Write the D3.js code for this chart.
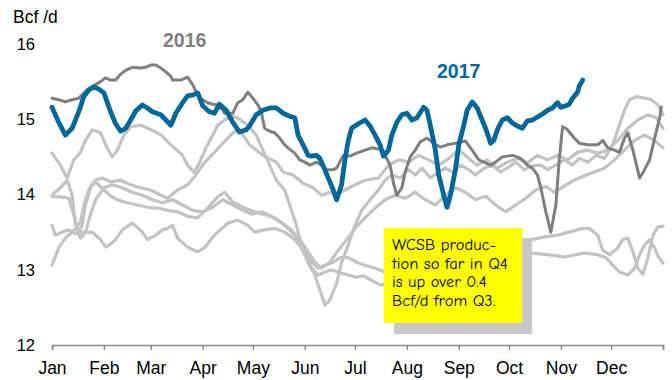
<!DOCTYPE html>
<html>
<head>
<meta charset="utf-8">
<script src="https://cdn.jsdelivr.net/npm/d3@7"></script>
<style>
  html, body { margin: 0; padding: 0; background: #fff; }
  svg { display: block; }
</style>
</head>
<body>
<svg id="chart" width="672" height="380"></svg>
<script>
// WCSB daily gas production, Bcf/d, by day of year

const monthLabels = ["Jan", "Feb", "Mar", "Apr", "May", "Jun", "Jul", "Aug", "Sep", "Oct", "Nov", "Dec"];
const monthStartDays = [0, 31, 59, 90, 120, 151, 181, 212, 243, 273, 304, 334, 365];
const yTickValues = [12, 13, 14, 15, 16];

// [day of year, Bcf/d]
const prod2017 = [[0,15.16],[4,14.96],[8,14.79],[12,14.88],[16,15.10],[19,15.30],[22,15.39],[25,15.43],[28,15.40],[31,15.35],[35,15.10],[38,14.94],[41,14.84],[44,14.88],[47,14.99],[50,15.11],[54,15.19],[57,15.15],[60,15.10],[65,15.06],[68,14.99],[71,14.92],[74,15.08],[78,15.22],[81,15.31],[84,15.32],[87,15.35],[90,15.18],[94,15.10],[97,15.08],[100,15.20],[104,15.12],[108,14.96],[112,14.83],[116,14.86],[118,14.91],[122,15.06],[126,15.12],[130,15.15],[134,15.15],[138,15.08],[142,15.04],[145,15.02],[147,14.79],[150,14.66],[153,14.52],[155,14.51],[158,14.52],[160,14.48],[162,14.38],[165,14.22],[168,14.06],[170,13.93],[173,14.13],[175,14.46],[177,14.72],[179,14.88],[183,14.94],[187,14.99],[190,14.91],[193,14.79],[196,14.66],[198,14.51],[201,14.59],[203,14.79],[206,14.96],[209,15.06],[212,15.08],[215,14.99],[218,15.02],[222,15.16],[224,15.12],[226,14.92],[229,14.59],[231,14.26],[234,13.99],[236,13.83],[238,13.99],[241,14.33],[243,14.66],[246,14.92],[248,15.12],[251,15.23],[254,15.15],[256,15.04],[259,14.88],[261,14.75],[262,14.68],[264,14.72],[266,14.86],[269,14.99],[272,15.02],[275,14.95],[278,14.91],[281,14.88],[284,14.98],[287,14.99],[290,15.03],[293,15.07],[296,15.12],[299,15.15],[302,15.22],[304,15.16],[307,15.18],[309,15.20],[311,15.28],[314,15.36],[315,15.44],[317,15.52]];

const prod2016 = [[0,15.28],[4,15.26],[8,15.23],[12,15.26],[16,15.28],[21,15.39],[26,15.46],[29,15.50],[32,15.55],[35,15.52],[38,15.52],[41,15.60],[44,15.65],[48,15.69],[53,15.68],[56,15.69],[59,15.72],[62,15.72],[65,15.68],[68,15.63],[71,15.57],[72,15.52],[77,15.52],[81,15.56],[84,15.46],[87,15.32],[90,15.26],[93,15.22],[96,15.20],[99,15.19],[102,15.12],[103,15.08],[108,15.08],[111,15.22],[114,15.26],[117,15.36],[120,15.28],[123,15.19],[125,15.10],[127,14.88],[130,14.84],[133,14.82],[136,14.75],[139,14.66],[142,14.60],[145,14.55],[148,14.46],[151,14.43],[154,14.39],[158,14.43],[161,14.39],[164,14.33],[168,14.33],[170,14.35],[174,14.52],[178,14.51],[182,14.55],[187,14.59],[191,14.62],[196,14.60],[199,14.52],[202,14.39],[204,14.15],[206,13.99],[209,14.09],[211,14.30],[214,14.50],[217,14.59],[220,14.70],[224,14.75],[228,14.68],[232,14.63],[236,14.66],[241,14.68],[247,14.71],[251,14.59],[255,14.46],[259,14.42],[262,14.39],[265,14.43],[269,14.50],[272,14.51],[275,14.52],[278,14.50],[281,14.46],[284,14.39],[287,14.35],[290,14.26],[292,14.09],[295,13.77],[298,13.50],[301,13.86],[303,14.46],[305,14.90],[307,14.88],[309,14.83],[312,14.75],[315,14.68],[320,14.66],[326,14.66],[329,14.72],[332,14.62],[336,14.59],[339,14.56],[342,14.75],[344,14.82],[347,14.59],[351,14.22],[354,14.33],[357,14.46],[360,14.75],[363,15.02],[364,15.16]];

// earlier years, drawn as a light background band
const prodEarlierA = [[0,14.55],[5,14.39],[9,14.22],[13,14.46],[17,14.56],[20,14.72],[24,14.86],[29,14.82],[32,14.66],[36,14.50],[39,14.59],[43,14.79],[47,14.90],[53,14.92],[57,14.88],[62,14.83],[66,14.78],[69,14.70],[73,14.62],[78,14.52],[81,14.39],[85,14.29],[88,14.42],[92,14.62],[96,14.79],[99,14.92],[103,14.99],[108,15.04],[112,15.00],[117,14.92],[122,14.79],[126,14.59],[130,14.39],[134,14.19],[139,14.06],[142,13.86],[146,13.59],[149,13.33],[153,13.10],[157,12.93],[160,12.73],[163,12.53],[166,12.60],[170,12.82],[173,13.10],[177,13.33],[181,13.59],[185,13.79],[190,13.93],[195,14.06],[199,14.19],[203,14.26],[208,14.22],[213,14.33],[217,14.26],[221,14.35],[226,14.22],[231,14.30],[235,14.35],[239,14.30],[244,14.39],[249,14.33],[253,14.26],[258,14.35],[263,14.39],[268,14.30],[272,14.35],[277,14.43],[282,14.33],[287,14.38],[292,14.39],[296,14.33],[301,14.39],[306,14.46],[311,14.39],[315,14.48],[320,14.43],[325,14.52],[330,14.48],[335,14.66],[338,14.86],[342,15.12],[345,15.26],[349,15.30],[354,15.28],[358,15.26],[362,15.19],[365,15.06]];

const prodEarlierB = [[0,13.97],[5,13.97],[10,13.95],[13,13.73],[16,13.49],[18,13.59],[20,13.86],[23,14.09],[26,14.19],[30,14.22],[35,14.17],[41,14.19],[47,14.13],[53,14.09],[59,14.06],[65,13.99],[69,13.95],[75,14.06],[81,14.13],[86,14.26],[91,14.42],[97,14.56],[102,14.68],[108,14.82],[112,14.86],[118,14.66],[126,14.52],[134,14.43],[138,14.30],[144,14.26],[150,14.15],[156,14.09],[161,13.99],[166,14.03],[170,14.00],[175,14.06],[181,14.13],[187,14.19],[195,14.22],[201,14.39],[207,14.46],[213,14.43],[219,14.52],[225,14.46],[231,14.39],[237,14.48],[243,14.59],[249,14.48],[254,14.39],[260,14.46],[266,14.35],[272,14.43],[278,14.48],[284,14.42],[290,14.52],[296,14.46],[302,14.52],[308,14.46],[314,14.56],[320,14.59],[326,14.55],[332,14.59],[338,14.72],[344,14.88],[350,14.99],[356,15.06],[361,15.02],[365,14.88]];

const prodEarlierC = [[0,13.59],[2,13.46],[6,13.50],[10,13.53],[14,13.48],[18,13.50],[24,13.50],[29,13.40],[32,13.30],[35,13.34],[38,13.40],[42,13.53],[48,13.62],[54,13.50],[57,13.40],[62,13.46],[66,13.53],[69,13.55],[72,13.59],[75,13.42],[81,13.30],[87,13.24],[91,13.29],[97,13.46],[105,13.62],[111,13.66],[117,13.59],[121,13.50],[127,13.53],[133,13.55],[139,13.50],[145,13.40],[151,13.24],[155,13.10],[159,13.02],[163,13.06],[168,13.10],[172,13.16],[177,13.16],[182,13.10],[187,13.06],[193,13.02],[199,12.97],[208,13.06],[220,13.16],[232,13.24],[244,13.26],[256,13.29],[268,13.33],[280,13.37],[287,13.40],[295,13.44],[302,13.46],[309,13.50],[317,13.55],[321,13.55],[326,13.46],[329,13.26],[333,13.20],[338,13.29],[341,13.40],[344,13.42],[347,13.24],[350,13.02],[353,12.94],[356,13.16],[359,13.46],[362,13.57],[365,13.58]];

const prodEarlierD = [[0,13.06],[4,13.29],[8,13.42],[12,13.50],[14,13.55],[17,13.63],[19,13.86],[22,14.06],[24,14.14],[27,14.15],[31,14.06],[35,13.98],[39,13.93],[45,13.89],[51,13.86],[57,13.83],[63,13.82],[69,13.79],[75,13.77],[81,13.71],[87,13.69],[93,13.82],[99,13.97],[103,14.03],[108,13.90],[115,13.82],[121,13.77],[127,13.73],[133,13.69],[139,13.59],[145,13.46],[151,13.20],[155,13.02],[159,12.93],[163,12.97],[167,13.00],[172,12.96],[177,12.93],[182,12.90],[186,12.92],[191,12.86],[196,12.80],[214,12.84],[226,12.89],[238,13.00],[250,13.06],[262,13.13],[274,13.18],[287,13.22],[296,13.20],[306,13.17],[318,13.22],[326,13.20],[331,13.16],[335,13.06],[339,12.97],[344,12.93],[348,13.02],[351,13.20],[354,13.33],[357,13.40],[360,13.29],[362,13.18],[365,13.09]];

const prodEarlierE = [[0,13.99],[5,14.09],[9,14.19],[12,13.99],[14,13.59],[17,13.42],[20,13.50],[23,13.73],[26,13.93],[31,14.09],[36,14.13],[42,14.09],[48,14.03],[54,13.99],[60,13.93],[66,13.89],[72,13.93],[78,13.86],[84,13.79],[90,13.77],[96,13.83],[102,13.93],[108,13.86],[114,13.79],[119,13.74],[125,13.77],[131,13.71],[137,13.63],[143,13.53],[148,13.40],[153,13.24],[157,13.10],[161,13.02],[166,13.10],[171,13.26],[176,13.40],[181,13.55],[187,13.69],[193,13.82],[199,13.93],[205,13.99],[211,13.95],[217,14.03],[223,13.93],[229,13.86],[235,13.99],[241,14.09],[247,14.03],[253,13.93],[259,13.98],[265,13.86],[271,13.77],[277,13.86],[283,13.95],[289,14.06],[295,14.11],[300,14.03],[306,14.11],[312,14.19],[318,14.25],[324,14.30],[330,14.35],[336,14.46],[342,14.59],[348,14.72],[354,14.79],[360,14.72],[365,14.62]];

const earlierYears = [prodEarlierA, prodEarlierB, prodEarlierC, prodEarlierD, prodEarlierE];

const noteLines = ["WCSB produc-", "tion so far in Q4", "is up over 0.4", "Bcf/d from Q3."];

// ---- layout ----
const svg = d3.select("#chart");
const x = d3.scaleLinear().domain([0, 365]).range([52, 663]);
const y = d3.scaleLinear().domain([12, 16]).range([345, 44]);

const line = d3.line()
  .x(d => x(d[0]))
  .y(d => y(d[1]));

// earlier years
svg.append("g")
  .selectAll("path")
  .data(earlierYears)
  .join("path")
  .attr("d", line)
  .attr("fill", "none")
  .attr("stroke", "#c3c3c3")
  .attr("stroke-width", 3.2)
  .attr("stroke-linejoin", "round")
  .attr("stroke-linecap", "round");

// 2016
svg.append("path")
  .datum(prod2016)
  .attr("d", line)
  .attr("fill", "none")
  .attr("stroke", "#7f7f7f")
  .attr("stroke-width", 3)
  .attr("stroke-linejoin", "round")
  .attr("stroke-linecap", "round");

// 2017
svg.append("path")
  .datum(prod2017)
  .attr("d", line)
  .attr("fill", "none")
  .attr("stroke", "#02689b")
  .attr("stroke-width", 4.8)
  .attr("stroke-linejoin", "round")
  .attr("stroke-linecap", "round");

// x axis
const xAxis = svg.append("g")
  .attr("transform", `translate(0,${y(12)})`)
  .call(d3.axisBottom(x)
    .tickValues(monthStartDays)
    .tickSize(5)
    .tickFormat((d, i) => monthLabels[i] || ""));
xAxis.select(".domain").attr("stroke", "#8a8a8a").attr("stroke-width", 1.6);
xAxis.selectAll(".tick line").attr("stroke", "#8a8a8a").attr("stroke-width", 1.4);
xAxis.selectAll(".tick text")
  .attr("y", 17)
  .attr("dy", "0.71em")
  .attr("fill", "#000")
  .style("font-family", "'Liberation Sans', Arial, sans-serif")
  .style("font-size", "17.5px");

// y labels
const yAxis = svg.append("g")
  .attr("transform", "translate(36,0)")
  .call(d3.axisLeft(y).tickValues(yTickValues).tickSize(0).tickPadding(1).tickFormat(d3.format("d")));
yAxis.select(".domain").remove();
yAxis.selectAll(".tick text")
  .attr("fill", "#000")
  .style("font-family", "'Liberation Sans', Arial, sans-serif")
  .style("font-size", "16.5px");

// unit
svg.append("text")
  .attr("x", 13).attr("y", 23)
  .style("font-family", "'Liberation Sans', Arial, sans-serif")
  .style("font-size", "17.5px")
  .attr("fill", "#000")
  .text("Bcf /d");

// series labels
svg.append("text")
  .attr("x", 163).attr("y", 47)
  .style("font-family", "'Liberation Sans', Arial, sans-serif")
  .style("font-size", "19.5px").style("font-weight", "bold")
  .attr("fill", "#808080")
  .text("2016");
svg.append("text")
  .attr("x", 437).attr("y", 78)
  .style("font-family", "'Liberation Sans', Arial, sans-serif")
  .style("font-size", "19.5px").style("font-weight", "bold")
  .attr("fill", "#02689b")
  .text("2017");

// note box with drop shadow
const note = svg.append("g").attr("transform", "translate(384,228)");
note.append("rect").attr("x", 10).attr("y", 10).attr("width", 138).attr("height", 96).attr("fill", "#c8c8c8");
note.append("rect").attr("x", 0).attr("y", 0).attr("width", 138).attr("height", 95).attr("fill", "#ffff00");
note.append("text")
  .style("font-family", "'Comic Sans MS', 'Comic Neue', 'Noto Sans', sans-serif")
  .style("font-size", "16.5px")
  .attr("fill", "#000")
  .selectAll("tspan")
  .data(noteLines)
  .join("tspan")
  .attr("x", 8)
  .attr("y", (d, i) => 22 + i * 18.5)
  .text(d => d);
</script>
</body>
</html>
